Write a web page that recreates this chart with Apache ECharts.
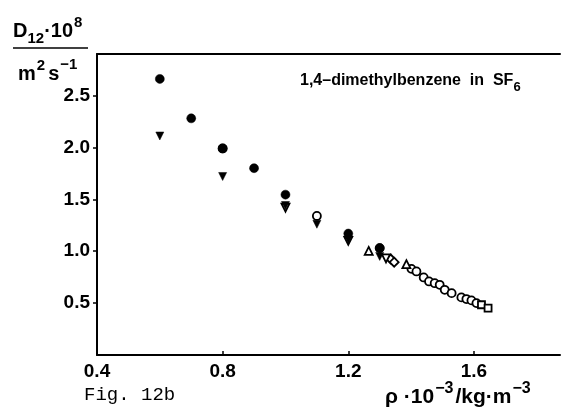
<!DOCTYPE html>
<html>
<head>
<meta charset="utf-8">
<script src="https://cdn.jsdelivr.net/npm/echarts@6/dist/echarts.min.js"></script>
<style>
  html, body { margin: 0; padding: 0; background: #fff; }
  #chart { width: 562px; height: 418px; }
</style>
</head>
<body>
<div id="chart"></div>
<script>
// Diffusion coefficient of 1,4-dimethylbenzene in SF6 versus density
var xTicks = [0.4, 0.8, 1.2, 1.6];
var yTicks = [0.5, 1.0, 1.5, 2.0, 2.5];

var filledCircles = [[0.6, 2.66], [0.7, 2.28], [0.8, 1.99], [0.9, 1.80], [1.0, 1.545], [1.2, 1.17], [1.3, 1.03]];
var filledDownTriangles = [[0.6, 2.11], [0.8, 1.72], [1.0, 1.44], [1.1, 1.26], [1.2, 1.11], [1.3, 0.95]];
var openDownTriangles = [[1.0, 1.42], [1.2, 1.10], [1.32, 0.93]];
var openCircles = [[0.8, 1.99], [1.1, 1.34], [1.3, 1.03], [1.401, 0.83], [1.417, 0.805], [1.44, 0.747],
  [1.457, 0.709], [1.475, 0.692], [1.491, 0.676], [1.507, 0.628], [1.529, 0.596], [1.56, 0.555],
  [1.576, 0.539], [1.592, 0.526], [1.608, 0.50]];
var openUpTriangles = [[1.265, 1.003], [1.385, 0.875]];
var openDiamonds = [[1.335, 0.925], [1.346, 0.894]];
var openSquares = [[1.624, 0.484], [1.645, 0.452]];

var HELV = '"Liberation Sans", Arial, sans-serif';
var MONO = '"Liberation Mono", "Courier New", monospace';
var ink = '#000';

// Lay out a run of text pieces (with sub/superscript offsets) along one baseline.
var measureCtx = document.createElement('canvas').getContext('2d');
function textRun(x, baseline, parts) {
  var out = [];
  var cx = x;
  parts.forEach(function (p) {
    var font = (p.weight || 'bold') + ' ' + p.size + 'px ' + (p.family || HELV);
    measureCtx.font = font;
    var w = measureCtx.measureText(p.text).width;
    out.push({
      type: 'text', x: cx, y: baseline + (p.dy || 0), silent: true,
      style: { text: p.text, font: font, fill: ink, align: 'left', verticalAlign: 'bottom' }
    });
    cx += w + (p.gap || 0);
  });
  return out;
}

function openSeries(data, symbol, size, rotate) {
  return {
    type: 'scatter', data: data, symbol: symbol, symbolSize: size, symbolRotate: rotate || 0,
    itemStyle: { color: '#fff', borderColor: ink, borderWidth: 1.8, opacity: 1 },
    emphasis: { disabled: true }, z: 3
  };
}
function filledSeries(data, symbol, size, rotate) {
  return {
    type: 'scatter', data: data, symbol: symbol, symbolSize: size, symbolRotate: rotate || 0,
    itemStyle: { color: ink, borderColor: ink, borderWidth: 0.5, opacity: 1 },
    emphasis: { disabled: true }, z: 4
  };
}

var graphics = [].concat(
  // y-axis title: D12·10^8 over m^2 s^-1
  textRun(13, 41, [
    { text: 'D', size: 20 },
    { text: '12', size: 15, dy: 5 },
    { text: '·10', size: 20, gap: 1 },
    { text: '8', size: 15, dy: -11 }
  ]),
  [{ type: 'line', silent: true, shape: { x1: 13, y1: 48, x2: 88, y2: 48 }, style: { stroke: ink, lineWidth: 1.5 } }],
  textRun(18, 84, [
    { text: 'm', size: 20, gap: 1 },
    { text: '2', size: 15, dy: -11, gap: 3 },
    { text: 's', size: 20, gap: 1 },
    { text: '−1', size: 15, dy: -12 }
  ]),
  // in-plot caption
  textRun(300, 89, [
    { text: '1,4–dimethylbenzene  in  SF', size: 16 },
    { text: '6', size: 13, dy: 5 }
  ]),
  // figure number
  textRun(84, 404, [{ text: 'Fig. 12b', size: 19, weight: 'normal', family: MONO }]),
  // x-axis title: ρ·10^-3 / kg·m^-3
  textRun(385, 408, [
    { text: 'ρ ·10', size: 21, gap: 1 },
    { text: '−3', size: 16, dy: -11, gap: 2 },
    { text: '/kg·m', size: 21, gap: 1 },
    { text: '−3', size: 16, dy: -11 }
  ])
);

var chart = echarts.init(document.getElementById('chart'), null, { renderer: 'canvas' });
chart.setOption({
  animation: false,
  backgroundColor: '#fff',
  grid: { left: 97, top: 54, right: 2, bottom: 63, containLabel: false },
  xAxis: [{
    type: 'value', min: 0.4, max: 1.874, position: 'bottom',
    axisLine: { show: true, lineStyle: { color: ink, width: 2 } },
    axisTick: { show: true, inside: true, length: 4, customValues: xTicks, lineStyle: { color: ink, width: 1.5 } },
    axisLabel: { customValues: xTicks, color: ink, fontFamily: HELV, fontWeight: 'bold', fontSize: 19, margin: 7,
      formatter: function (v) { return v.toFixed(1); } },
    splitLine: { show: false }
  }, {
    type: 'value', min: 0.4, max: 1.874, position: 'top',
    axisLine: { show: true, lineStyle: { color: ink, width: 2 } },
    axisTick: { show: false }, axisLabel: { show: false }, splitLine: { show: false }
  }],
  yAxis: {
    type: 'value', min: 0, max: 2.9,
    axisLine: { show: true, lineStyle: { color: ink, width: 2 } },
    axisTick: { show: true, inside: false, length: 4, customValues: yTicks, lineStyle: { color: ink, width: 1.5 } },
    axisLabel: { customValues: yTicks, color: ink, fontFamily: HELV, fontWeight: 'bold', fontSize: 19, margin: 7,
      formatter: function (v) { return v.toFixed(1); } },
    splitLine: { show: false }
  },
  series: [
    openSeries(openCircles, 'circle', 8),
    openSeries(openUpTriangles, 'triangle', 8),
    openSeries(openDiamonds, 'diamond', 9),
    openSeries(openSquares, 'rect', 7),
    openSeries(openDownTriangles, 'triangle', 8, 180),
    filledSeries(filledCircles, 'circle', 9),
    filledSeries(filledDownTriangles, 'triangle', 8, 180)
  ],
  graphic: graphics
});
</script>
</body>
</html>
